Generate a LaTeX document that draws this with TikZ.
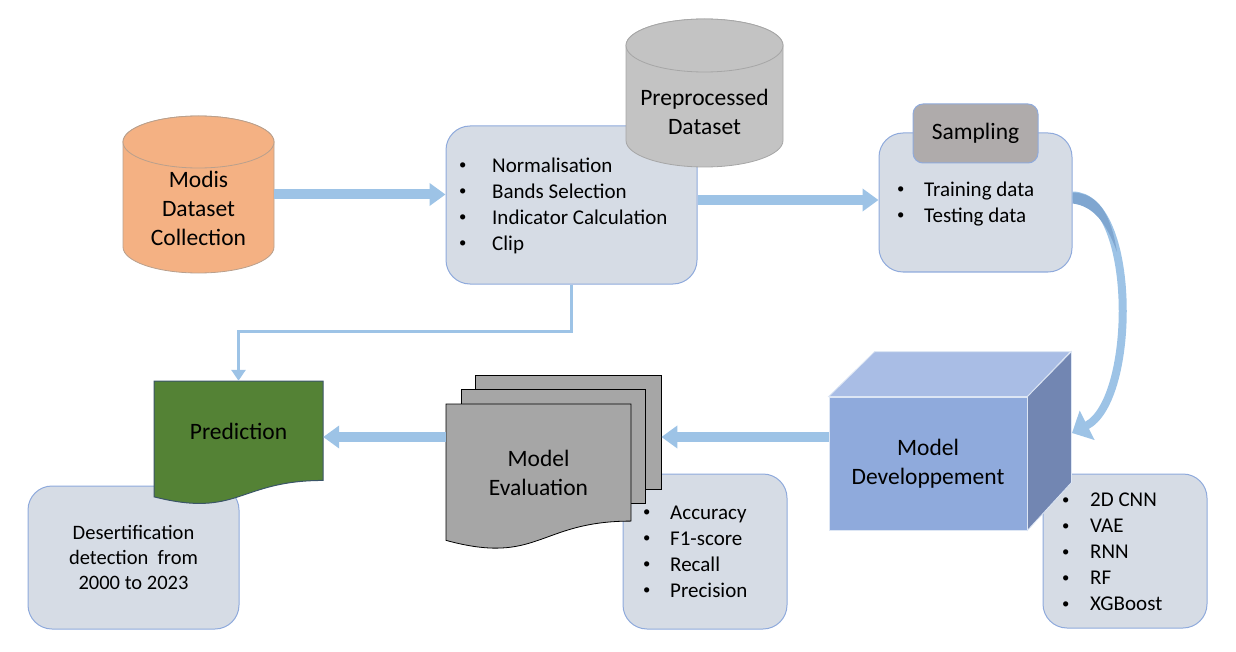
\documentclass[tikz,border=0pt]{standalone}
\usepackage{fontspec}
\setmainfont{Carlito}
\usepackage{tikz}
\usetikzlibrary{arrows.meta}
\usetikzlibrary{calc}
\definecolor{arrowblue}{HTML}{9DC3E6}
\definecolor{arrowdark}{HTML}{7FA6D0}
\definecolor{boxfill}{HTML}{D6DCE5}
\definecolor{boxline}{HTML}{8FAADC}
\definecolor{modisfill}{HTML}{F4B183}
\definecolor{modisline}{HTML}{B9A08D}
\definecolor{dbgray}{HTML}{C3C3C3}
\definecolor{dbline}{HTML}{A6A6A6}
\definecolor{headgray}{HTML}{AFABAB}
\definecolor{cubefront}{HTML}{8FAADC}
\definecolor{cubetop}{HTML}{A9BDE5}
\definecolor{cubeside}{HTML}{7286B2}
\definecolor{pagegray}{HTML}{A6A6A6}
\definecolor{predgreen}{HTML}{548235}
\definecolor{predline}{HTML}{3B5568}
\tikzset{
  listbox/.style={draw=boxline, fill=boxfill, line width=1pt, rounded corners=24pt, inner sep=0pt},
  headbox/.style={draw=boxline, fill=headgray, line width=1pt, rounded corners=10pt, font=\fontsize{23.5}{29}\selectfont},
  cylbox/.style={draw=none, inner sep=0pt},
  biglabel/.style={align=center, inner sep=0pt, font=\fontsize{23.5}{29}\selectfont},
  bullets/.style={align=left, anchor=west, inner sep=0pt, font=\fontsize{21}{26}\selectfont},
  page/.style={fill=pagegray, draw=black, line width=0.8pt, inner sep=0pt},
  blockarrow/.style={draw=arrowblue, line width=10pt, -{Triangle[length=16pt,width=22pt]}},
  thinarrow/.style={draw=arrowblue, line width=3pt, -{Triangle[length=11pt,width=14pt]}},
  curvearrow/.style={draw=arrowblue, line width=8pt, -{Triangle[length=17pt,width=32pt]}}
}
\newcommand{\itm}[2][28pt]{\makebox[#1][l]{\raisebox{0.12em}{\scalebox{0.7}{\textbullet}}}#2}
% database cylinder: centre x, top, x radius, y radius, bottom, style
\newcommand{\dbcyl}[6]{%
  \filldraw[#6] (#1-#3,#2+#4) -- (#1-#3,#5-#4) arc[start angle=180,end angle=0,x radius=#3,y radius=#4]
    -- (#1+#3,#2+#4) arc[start angle=0,end angle=-180,x radius=#3,y radius=#4] -- cycle;
  \draw[#6] (#1,#2+#4) ellipse[x radius=#3,y radius=#4];
}
% document page with wavy bottom: left, top, width, height, style
\newcommand{\docpage}[5]{%
  \filldraw[#5] (#1,#2) -- (#1+#3,#2) -- (#1+#3,#2+0.802*#4)
    .. controls (#1+0.5*#3,#2+0.802*#4) and (#1+0.5*#3,#2+1.1075*#4) .. (#1,#2+0.934*#4) -- cycle;
}

\begin{document}
\begin{tikzpicture}[x=1pt,y=-1pt]
	\useasboundingbox (0,0) rectangle (1236,652);
	% data collection
	\dbcyl{198.5}{116}{75.5}{26}{273}{fill=modisfill, draw=modisline, line width=0.8pt}
	\node[cylbox, minimum width=151, minimum height=157] (modis) at (198.5,194.5) {};
	\node[biglabel] (modislabel) at (198.5,208.5) {Modis\\Dataset\\Collection};
	%
	\node[listbox, minimum width=251, minimum height=158] (prep) at (571.5,205) {};
	\node[bullets] (preplist) at (459,205.5) {\itm[33pt]{Normalisation}\\ \itm[33pt]{Bands Selection}\\ \itm[33pt]{Indicator Calculation}\\ \itm[33pt]{Clip}};
	\dbcyl{704.5}{19}{78.5}{26.5}{167}{fill=dbgray, draw=dbline, line width=0.8pt}
	\node[biglabel] (prepdb) at (704.5,112) {Preprocessed\\Dataset};
	\draw[blockarrow] (modis.east) -- (modis.east -| prep.west);
	%
	\node[listbox, minimum width=193, minimum height=139] (samp) at (975.5,202.5) {};
	\node[headbox, minimum width=125, minimum height=59] (samphead) at (975.5,133.5) {Sampling};
	\node[bullets] (samplist) at (897,204) {\itm[27pt]{Training data}\\ \itm[27pt]{Testing data}};
	\draw[blockarrow] ([yshift=5pt]prep.east) -- ([yshift=5pt]prep.east -| samp.west);
	% model
	\node[listbox, minimum width=164, minimum height=154] (modellist) at (1125,551) {};
	\node[bullets] (modelitems) at (1062,552) {\itm[28pt]{2D CNN}\\ \itm[28pt]{VAE}\\ \itm[28pt]{RNN}\\ \itm[28pt]{RF}\\ \itm[28pt]{XGBoost}};
	\node[fill=cubefront, draw=white!70!cubefront, line width=0.8pt, biglabel, minimum width=198, minimum height=133] (model) at (928,463.5) {Model\\Developpement};
	\filldraw[fill=cubetop, draw=white!70!cubefront, line width=0.8pt] (model.north west) -- ++(46,-45) -- ++(196,0) -- (model.north east) -- cycle;
	\filldraw[fill=cubeside, draw=white!70!cubefront, line width=0.8pt] (model.north east) -- ++(44,-45) -- ++(0,131) -- (model.south east) -- cycle;
	\coordinate (cubeR) at (1072,433);
	\draw[curvearrow] ([yshift=7pt]samp.east) .. controls (1137,196) and (1137,400) .. (cubeR);
	\fill[arrowdark] ([yshift=10pt]samp.east) .. controls (1098,193) and (1111,214) .. (1117,252)
		.. controls (1106,222) and (1093,206) .. ([yshift=-1pt]samp.east) -- cycle;
	% evaluation
	\node[listbox, minimum width=164, minimum height=155] (evallist) at (705,551.5) {};
	\node[bullets] (evalitems) at (643,551.5) {\itm[27pt]{Accuracy}\\ \itm[27pt]{F1-score}\\ \itm[27pt]{Recall}\\ \itm[27pt]{Precision}};
	\node[page, minimum width=186, minimum height=114] (evalback) at (568,432) {};
	\node[page, minimum width=184, minimum height=114] (evalmid) at (553,446) {};
	\docpage{446}{404}{185}{146}{fill=pagegray, draw=black, line width=0.8pt}
	\node[biglabel, minimum width=185] (evaldoc) at (538.5,472.5) {Model\\Evaluation};
	\draw[blockarrow] ([yshift=26.5pt]model.west) -- ([yshift=26.5pt]model.west -| evalback.east);
	% prediction
	\node[listbox, align=center, font=\fontsize{20.5}{25}\selectfont, minimum width=211, minimum height=143] (desert) at (133.5,557.5) {Desertification\\detection~ from\\2000 to 2023};
	\docpage{154}{381}{169}{124}{fill=predgreen, draw=predline, line width=1pt}
	\node[biglabel, minimum width=169, minimum height=100] (predict) at (238.5,431) {Prediction};
	\draw[blockarrow] ([yshift=35.5pt]evaldoc.west) -- ([yshift=35.5pt]evaldoc.west -| predict.east);
	\draw[thinarrow] (prep.south) -- ++(0,47) -| (predict.north);
\end{tikzpicture}
\end{document}
